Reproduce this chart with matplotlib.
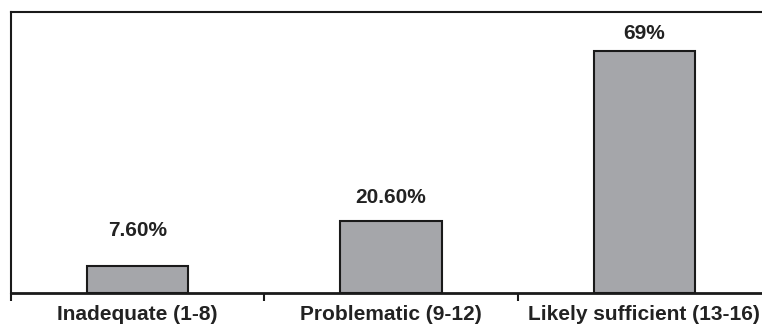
import numpy as np
import matplotlib
matplotlib.use('Agg')
import matplotlib.pyplot as plt

categories = ['Inadequate (1-8)', 'Problematic (9-12)', 'Likely sufficient (13-16)']
values = [7.6, 20.6, 69.0]
value_labels = ['7.60%', '20.60%', '69%']

plt.rcParams['font.family'] = ['Liberation Sans', 'DejaVu Sans']

fig = plt.figure(figsize=(7.62, 3.27), dpi=100)
# right edge of the axes falls just outside the image, as in the reference
ax = fig.add_axes([11 / 762, 1 - 293 / 327, 760 / 762, 281 / 327])

x = np.arange(len(categories))
bars = ax.bar(x, values, width=0.40, color='#a5a6aa', edgecolor='#1a1a1a', linewidth=1.5)

# labels above bars sit at uneven heights in the original
offsets = [26, 17, 12]
for rect, lab, off in zip(bars, value_labels, offsets):
    ax.annotate(lab, (rect.get_x() + rect.get_width() / 2, rect.get_height()),
                xytext=(0, off), textcoords='offset points',
                ha='center', va='center', fontsize=15, fontweight='bold', color='#222222')

ax.set_xlim(-0.5, 2.5)
ax.set_ylim(0, 80)
ax.set_xticks(x)
ax.set_xticklabels(categories, fontsize=15, fontweight='bold', color='#222222')
ax.tick_params(axis='x', which='major', length=0, pad=8.5)
ax.set_xticks(np.arange(-0.5, 3.0, 1.0), minor=True)
ax.tick_params(axis='x', which='minor', length=6, width=1.5, direction='out', color='#1a1a1a')
ax.set_yticks([])

for s in ax.spines.values():
    s.set_linewidth(1.5)
    s.set_color('#1a1a1a')
ax.spines['bottom'].set_linewidth(2)

fig.savefig('out.png', dpi=100)
